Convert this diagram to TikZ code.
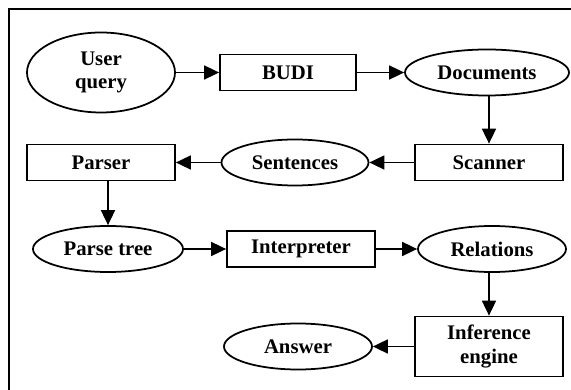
\documentclass[tikz,border=0pt]{standalone}
\usepackage{fontspec}
\setmainfont{Liberation Serif}
\usepackage{tikz}
\usetikzlibrary{positioning,shapes.geometric,arrows.meta}

\begin{document}
\begin{tikzpicture}[line width=1pt,
    every node/.style={font=\fontsize{11.8}{13.6}\selectfont\bfseries, align=center, inner sep=0pt},
    oval/.style={draw, ellipse, minimum width=2.96cm, minimum height=0.92cm},
    box/.style={draw, rectangle, minimum width=2.96cm, minimum height=0.72cm},
    flow/.style={-{Triangle[length=0.3cm,width=0.28cm]}}]
    \useasboundingbox (0,0) rectangle (11.42,-7.8);
    % Frame
    \draw[line width=1.2pt] (0.18,-7.8) -- (0.18,-0.18) -- (11.42,-0.18);

    % Row 1
    \node[oval, minimum height=1.6cm] (query) at (2.02,-1.45) {User\\query};
    \node[box, minimum width=2.72cm] (budi) at (5.76,-1.45) {BUDI};
    \node[oval, minimum width=3.28cm] (docs) at (9.74,-1.45) {Documents};

    % Row 2
    \node[box] (scanner) at (9.78,-3.25) {Scanner};
    \node[oval, minimum width=2.94cm] (sentences) at (5.9,-3.25) {Sentences};
    \node[box] (parser) at (2.02,-3.25) {Parser};

    % Row 3
    \node[oval, minimum width=3cm] (ptree) at (2.16,-4.98) {Parse tree};
    \node[box] (interp) at (6.02,-4.98) {Interpreter};
    \node[oval] (relations) at (9.84,-4.98) {Relations};

    % Row 4
    \node[box, minimum height=1.2cm] (inference) at (9.78,-6.93) {Inference\\engine};
    \node[oval] (answer) at (5.96,-6.93) {Answer};

    % Arrows
    \draw[flow] (query) -- (budi);
    \draw[flow] (budi) -- (docs);
    \draw[flow] (docs.south -| scanner) -- (scanner.north);
    \draw[flow] (scanner) -- (sentences);
    \draw[flow] (sentences) -- (parser);
    \draw[flow] (parser.south -| ptree) -- (ptree.north);
    \draw[flow] (ptree) -- (interp);
    \draw[flow] (interp) -- (relations);
    \draw[flow] (relations.south -| inference) -- (inference.north);
    \draw[flow] (inference) -- (answer);
\end{tikzpicture}
\end{document}
